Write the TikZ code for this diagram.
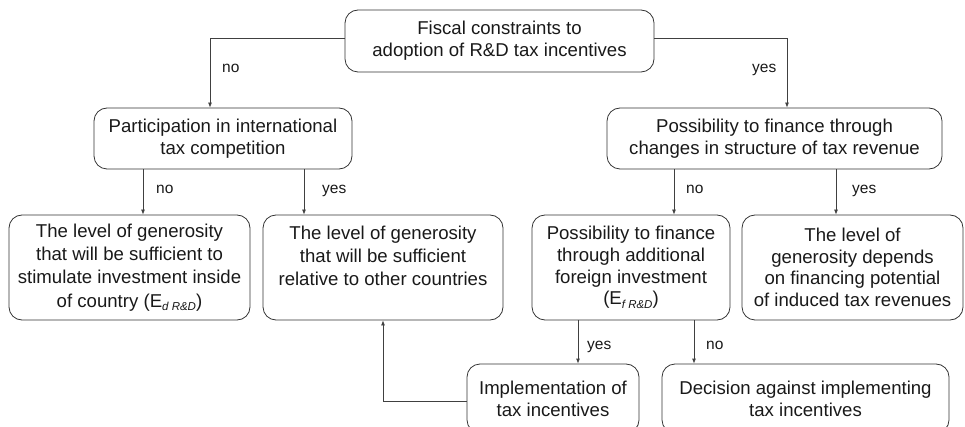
\documentclass[tikz,border=0pt]{standalone}
\usepackage{fontspec}
\setmainfont{Liberation Sans}
\usetikzlibrary{arrows.meta}
\newcommand{\subRD}[1]{\raisebox{-3.5pt}{\fontsize{11.5}{12}\selectfont\itshape #1}}
\tikzset{
  box/.style={draw=black!80, line width=0.8pt, rounded corners=13pt, inner sep=0pt,
    align=center, text=black!90, font=\fontsize{18.6}{21.7}\selectfont},
  boxw/.style={box, font=\fontsize{18.6}{23.2}\selectfont},
  arr/.style={draw=black!75, line width=0.8pt, -{Latex[length=5pt,width=4pt]}},
  link/.style={draw=black!75, line width=0.8pt},
  lab/.style={font=\fontsize{15.5}{18}\selectfont, text=black!90, inner sep=0pt, anchor=base west},
}
\begin{document}
\begin{tikzpicture}[x=1pt, y=-1pt]
\useasboundingbox (0,0) rectangle (965,427);

\node[box, minimum width=309pt, minimum height=62pt] (top) at (499.5,41)
  {Fiscal constraints to\\adoption of R\&D tax incentives};
\node[box, minimum width=258pt, minimum height=61pt] (part) at (223,138.5)
  {Participation in international\\tax competition};
\node[box, minimum width=335pt, minimum height=61pt] (poss1) at (774.5,138.5)
  {Possibility to finance through\\changes in structure of tax revenue};
\node[boxw, minimum width=241pt, minimum height=105pt] (gen1) at (129.5,267.5)
  {The level of generosity\\that will be sufficient to\\stimulate investment inside\\of country (E\subRD{d R\&D})};
\node[boxw, minimum width=240pt, minimum height=105pt] (gen2) at (383,267.5)
  {The level of generosity\\that will be sufficient\\relative to other countries\\\mbox{}};
\node[box, minimum width=198pt, minimum height=105pt] (poss2) at (631,267.5)
  {Possibility to finance\\through additional\\foreign investment\\(E\subRD{f R\&D})};
\node[box, minimum width=221pt, minimum height=105pt] (gen3) at (852.5,267.5)
  {The level of\\generosity depends\\on financing potential\\of induced tax revenues};
\node[box, minimum width=172pt, minimum height=69pt] (impl) at (553,398.5)
  {Implementation of\\tax incentives};
\node[box, minimum width=287pt, minimum height=69pt] (dec) at (805.5,398.5)
  {Decision against implementing\\tax incentives};

% connectors
\draw[arr] ([yshift=3pt]top.west) -| ([xshift=-13pt]part.north);
\draw[arr] ([yshift=3pt]top.east) -| ([xshift=12.5pt]poss1.north);

\coordinate (p1) at ([xshift=-80pt]part.south);
\coordinate (p2) at ([xshift=81pt]part.south);
\draw[arr] (p1) -- (p1 |- gen1.north);
\draw[arr] (p2) -- (p2 |- gen2.north);

\coordinate (q1) at ([xshift=-100.5pt]poss1.south);
\coordinate (q2) at ([xshift=61.5pt]poss1.south);
\draw[arr] (q1) -- (q1 |- poss2.north);
\draw[arr] (q2) -- (q2 |- gen3.north);

\coordinate (r1) at ([xshift=-53pt]poss2.south);
\coordinate (r2) at ([xshift=63pt]poss2.south);
\draw[arr] (r1) -- (r1 |- impl.north);
\draw[arr] (r2) -- (r2 |- dec.north);

\draw[arr] ([yshift=-2.5pt]impl.west) -| (gen2.south);

% labels
\node[lab] (l1) at (222,72.5) {no};
\node[lab] (l2) at (752,72.5) {yes};
\node[lab] (l3) at (156,193.5) {no};
\node[lab] (l4) at (322,193.5) {yes};
\node[lab] (l5) at (686,193.5) {no};
\node[lab] (l6) at (852,193.5) {yes};
\node[lab] (l7) at (587,349) {yes};
\node[lab] (l8) at (706,349) {no};
\end{tikzpicture}
\end{document}
